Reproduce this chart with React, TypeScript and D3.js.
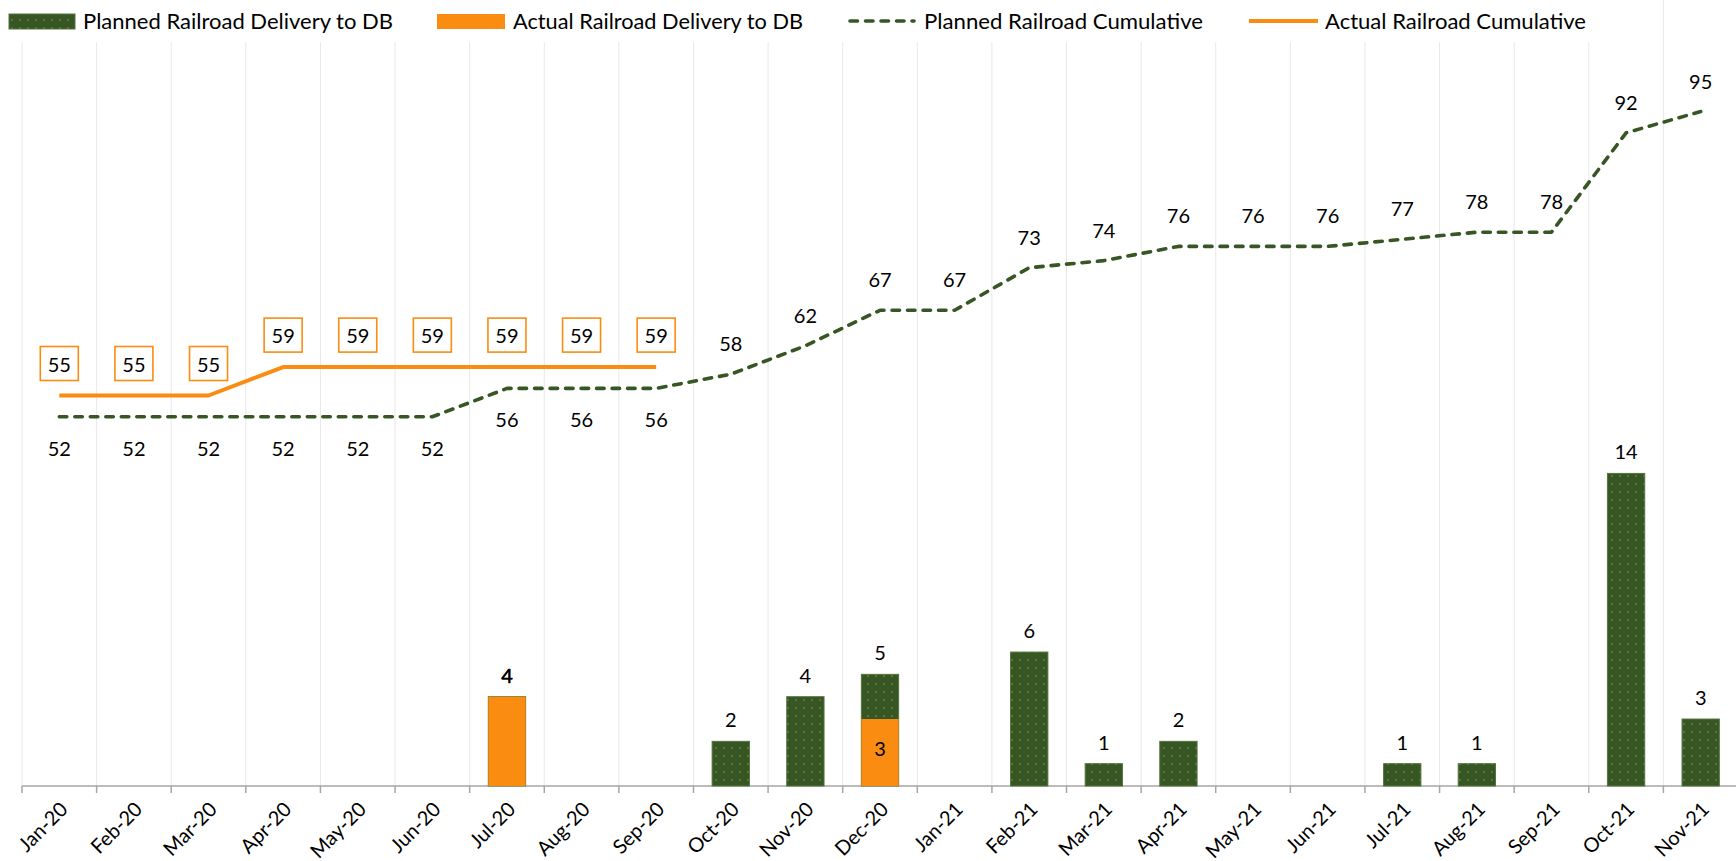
import React from "react";
import * as d3 from "d3";

const months = ["Jan-20","Feb-20","Mar-20","Apr-20","May-20","Jun-20","Jul-20","Aug-20","Sep-20","Oct-20","Nov-20","Dec-20","Jan-21","Feb-21","Mar-21","Apr-21","May-21","Jun-21","Jul-21","Aug-21","Sep-21","Oct-21","Nov-21"];
const plannedDelivery = [0,0,0,0,0,0,4,0,0,2,4,5,0,6,1,2,0,0,1,1,0,14,3];
const actualDelivery: (number | null)[] = [0,0,0,0,0,0,4,0,0,0,0,3,null,null,null,null,null,null,null,null,null,null,null];
const plannedCumulative = [52,52,52,52,52,52,56,56,56,58,62,67,67,73,74,76,76,76,77,78,78,92,95];
const actualCumulative: (number | null)[] = [55,55,55,59,59,59,59,59,59,null,null,null,null,null,null,null,null,null,null,null,null,null,null];
const legendLabels = ["Planned Railroad Delivery to DB", "Actual Railroad Delivery to DB", "Planned Railroad Cumulative", "Actual Railroad Cumulative"];

const GREEN = "#375623";
const ORANGE = "#FA8C12";
const FONT = "Lato, 'Open Sans', sans-serif";

export default function App() {
  const W = 1736, H = 861;
  const left = 22, right = 1738, bottom = 786, top = 76;
  const x = d3.scaleBand<string>().domain(months).range([left, right]).padding(0);
  const bw = x.bandwidth();
  const cx = (m: string) => (x(m) as number) + bw / 2;
  const y1 = d3.scaleLinear().domain([0, 31.8]).range([bottom, top]);
  const y2 = d3.scaleLinear().domain([0, 100]).range([bottom, top]);
  const barW = bw * 0.5;

  const plannedLine = d3.line<number>().x((_, i) => cx(months[i])).y((d) => y2(d)).curve(d3.curveLinear);
  const actualPts = actualCumulative.map((v, i) => ({ v, m: months[i] })).filter((d) => d.v != null) as { v: number; m: string }[];
  const actualLine = d3.line<{ v: number; m: string }>().x((d) => cx(d.m)).y((d) => y2(d.v));

  const boundaries = d3.range(months.length + 1).map((i) => left + i * bw);
  const fs = 20;

  return (
    <svg width={W} height={H} style={{ position: "absolute", left: 0, top: 0, background: "#fff" }} fontFamily={FONT}>
      <defs>
        <pattern id="dots" width="8" height="8" patternUnits="userSpaceOnUse">
          <rect width="8" height="8" fill={GREEN} />
          <rect x="3.3" y="3.3" width="1.5" height="1.5" fill="#64943f" />
        </pattern>
      </defs>
      {boundaries.map((b, i) => (
        <line key={"g" + i} x1={b} x2={b} y1={0} y2={bottom} stroke="#e8e8e8" strokeWidth={1} />
      ))}
      <rect x={0} y={0} width={1600} height={42} fill="#fff" />
      <line x1={left} x2={W} y1={bottom} y2={bottom} stroke="#a6a6a6" strokeWidth={1.5} />
      {boundaries.map((b, i) => (
        <line key={"t" + i} x1={b} x2={b} y1={bottom} y2={bottom + 7} stroke="#a6a6a6" strokeWidth={1.5} />
      ))}
      {plannedDelivery.map((v, i) =>
        v > 0 ? (
          <rect key={"pb" + i} x={cx(months[i]) - barW / 2} y={y1(v)} width={barW} height={bottom - y1(v)} fill="url(#dots)" stroke="#55743f" strokeWidth={1} />
        ) : null
      )}
      {actualDelivery.map((v, i) =>
        v != null && v > 0 ? (
          <rect key={"ab" + i} x={cx(months[i]) - barW / 2} y={y1(v)} width={barW} height={bottom - y1(v)} fill={ORANGE} />
        ) : null
      )}
      {plannedDelivery.map((v, i) =>
        v > 0 ? (
          <text key={"pl" + i} x={cx(months[i])} y={y1(v) - 22} textAnchor="middle" dominantBaseline="central" fontSize={fs} fill="#000">{v}</text>
        ) : null
      )}
      {actualDelivery.map((v, i) => {
        if (v == null || v <= 0) return null;
        const overlapping = plannedDelivery[i] === v;
        const yy = overlapping ? y1(v) - 22 : (y1(v) + bottom) / 2 - 5;
        return (
          <text key={"al" + i} x={cx(months[i])} y={yy} textAnchor="middle" dominantBaseline="central" fontSize={fs} fill="#000" stroke={overlapping ? "#000" : "none"} strokeWidth={0.4}>{v}</text>
        );
      })}
      <path d={plannedLine(plannedCumulative) || ""} fill="none" stroke={GREEN} strokeWidth={3.6} strokeDasharray="7.5 8" strokeLinecap="round" strokeLinejoin="round" />
      <path d={actualLine(actualPts) || ""} fill="none" stroke={ORANGE} strokeWidth={4} strokeLinejoin="round" />
      {plannedCumulative.map((v, i) => (
        <text key={"pc" + i} x={cx(months[i])} y={y2(v) + (i < 9 ? 31 : -31)} textAnchor="middle" dominantBaseline="central" fontSize={fs} fill="#000">{v}</text>
      ))}
      {actualPts.map((d, i) => (
        <g key={"ac" + i} transform={`translate(${cx(d.m)},${y2(d.v) - 32})`}>
          <rect x={-19} y={-17} width={38} height={34} fill="#fff" stroke={ORANGE} strokeWidth={1.6} />
          <text x={0} y={0} textAnchor="middle" dominantBaseline="central" fontSize={fs} fill="#000">{d.v}</text>
        </g>
      ))}
      {months.map((m) => (
        <text key={"x" + m} transform={`translate(${cx(m) + 4},${bottom + 19}) rotate(-45)`} textAnchor="end" dominantBaseline="central" fontSize={fs} fill="#000">{m}</text>
      ))}
      <g fontSize={20.5}>
        <rect x={9} y={14} width={66} height={15} fill="url(#dots)" stroke="#55743f" strokeWidth={1} />
        <text x={83} y={21} dominantBaseline="central" textLength={310} lengthAdjust="spacingAndGlyphs">{legendLabels[0]}</text>
        <rect x={437} y={14} width={68} height={15} fill={ORANGE} />
        <text x={513} y={21} dominantBaseline="central" textLength={290} lengthAdjust="spacingAndGlyphs">{legendLabels[1]}</text>
        <line x1={850} x2={914} y1={21} y2={21} stroke={GREEN} strokeWidth={3.6} strokeDasharray="7.5 8" strokeLinecap="round" />
        <text x={924} y={21} dominantBaseline="central" textLength={279} lengthAdjust="spacingAndGlyphs">{legendLabels[2]}</text>
        <line x1={1249} x2={1318} y1={21} y2={21} stroke={ORANGE} strokeWidth={4} />
        <text x={1325} y={21} dominantBaseline="central" textLength={261} lengthAdjust="spacingAndGlyphs">{legendLabels[3]}</text>
      </g>
    </svg>
  );
}
